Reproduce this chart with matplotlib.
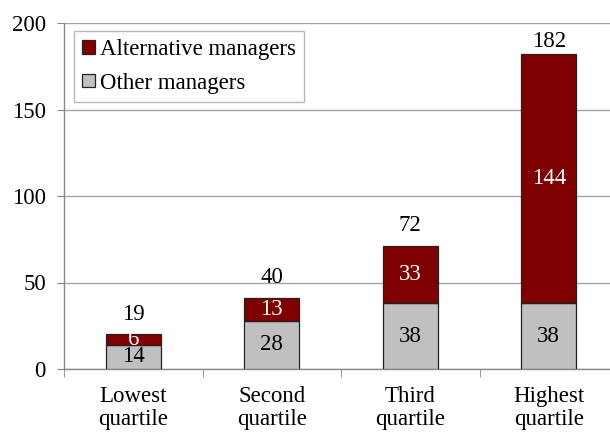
import matplotlib
matplotlib.use("Agg")
import matplotlib.pyplot as plt
import numpy as np

categories = ["Lowest\nquartile", "Second\nquartile", "Third\nquartile", "Highest\nquartile"]
other = [14, 28, 38, 38]
alternative = [6, 13, 33, 144]
totals = [19, 40, 72, 182]
yticks = [0, 50, 100, 150, 200]

plt.rcParams['font.family'] = ['Liberation Serif', 'DejaVu Serif']

fig = plt.figure(figsize=(6.1, 4.33), dpi=100)
ax = fig.add_axes([64/610, 64/433, 554/610, 346/433])

x = np.arange(len(categories))
red = "#7f0000"
grey = "#c0c0c0"
w = 0.4
fs = 16.5
b1 = ax.bar(x, other, width=w, color=grey, edgecolor="#222222", linewidth=0.9, zorder=3, label="Other managers")
b2 = ax.bar(x, alternative, width=w, bottom=other, color=red, edgecolor="#222222", linewidth=0.9, zorder=3, label="Alternative managers")

ymax = 200
for i in range(len(x)):
    top = other[i] + alternative[i]
    ax.text(x[i], other[i] / 2, str(other[i]), ha="center", va="center", fontsize=fs, color="black", zorder=4)
    ax.text(x[i], other[i] + alternative[i] / 2, str(alternative[i]), ha="center", va="center", fontsize=fs, color="white", zorder=4)
    ylab = min(top + 8.5, ymax - 14)
    ax.text(x[i], ylab, str(totals[i]), ha="center", va="baseline", fontsize=fs, color="black", zorder=4)

ax.set_xlim(-0.5, 3.5)
ax.set_ylim(0, ymax)
ax.set_yticks(yticks)
ax.set_yticklabels([str(t) for t in yticks], fontsize=fs)
ax.yaxis.grid(True, color="#a6a6a6", linewidth=1.0, zorder=0)
ax.set_axisbelow(True)

ax.set_xticks(x)
ax.set_xticklabels(categories, fontsize=fs, linespacing=1.15)
ax.tick_params(axis="x", which="major", length=0, pad=12)
ax.set_xticks(np.arange(-0.5, 3.6, 1.0), minor=True)
ax.tick_params(axis="x", which="minor", length=6, color="#888888", direction="out")
ax.tick_params(axis="y", length=5, color="#888888", pad=8)

for s in ["top", "right"]:
    ax.spines[s].set_visible(False)
for s in ["left", "bottom"]:
    ax.spines[s].set_color("#888888")
    ax.spines[s].set_linewidth(1.0)

handles = [b2, b1]
leg = ax.legend(handles, ["Alternative managers", "Other managers"], loc="upper left",
                bbox_to_anchor=(10/554, 338/346), fontsize=fs, frameon=True, fancybox=False,
                edgecolor="#a6a6a6", handlelength=0.55, handleheight=0.55, handletextpad=0.25,
                borderpad=0.35, labelspacing=0.55, borderaxespad=0)
leg.get_frame().set_linewidth(1.0)

fig.savefig("out.png", dpi=100)
